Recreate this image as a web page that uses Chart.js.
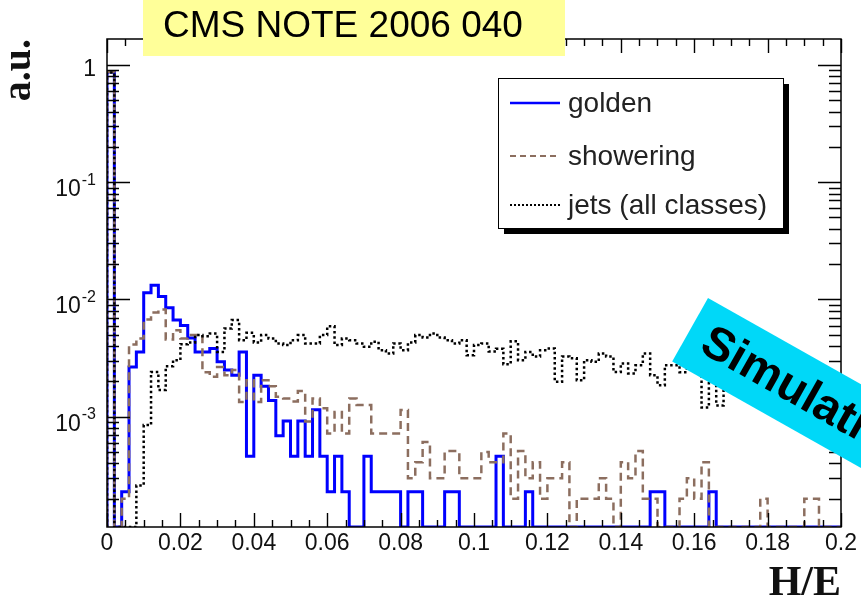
<!DOCTYPE html>
<html>
<head>
<meta charset="utf-8">
<script src="https://cdn.jsdelivr.net/npm/chart.js@4/dist/chart.umd.min.js"></script>
<style>
  html, body { margin: 0; padding: 0; background: #ffffff; }
  #wrap { position: relative; width: 861px; height: 605px; }
</style>
</head>
<body>
<div id="wrap"><canvas id="chart" width="861" height="605"></canvas></div>
<script>
// H/E histograms, 100 bins of width 0.002 from 0 to 0.2 (normalised, a.u.)
const binWidth = 0.002;

const golden = [
  0.87, 0, 2.3e-4, 2.66e-3, 3.57e-3, 1.14e-2, 1.32e-2, 1.06e-2, 8.5e-3, 6.7e-3,
  6.0e-3, 4.7e-3, 3.57e-3, 3.57e-3, 3.82e-3, 2.94e-3, 2.5e-3, 2.26e-3, 3.57e-3, 4.6e-4,
  2.26e-3, 1.82e-3, 1.38e-3, 6.9e-4, 9.2e-4, 4.6e-4, 9.2e-4, 4.6e-4, 1.15e-3, 4.6e-4,
  2.3e-4, 4.6e-4, 2.3e-4, 0, 0, 4.6e-4, 2.3e-4, 2.3e-4, 2.3e-4, 2.3e-4,
  0, 2.3e-4, 2.3e-4, 0, 0, 0, 2.3e-4, 2.3e-4, 0, 0,
  0, 0, 0, 4.6e-4, 0, 0, 0, 2.3e-4, 0, 0,
  0, 0, 0, 0, 0, 0, 0, 0, 0, 0,
  0, 0, 0, 0, 2.3e-4, 2.3e-4, 0, 0, 0, 0,
  0, 0, 2.3e-4, 0, 0, 0, 0, 0, 0, 0,
  0, 0, 0, 0, 0, 0, 0, 0, 0, 0
];

const showering = [
  0.87, 0, 2.0e-4, 4.13e-3, 4.65e-3, 6.75e-3, 7.74e-3, 8.2e-3, 4.56e-3, 5.47e-3,
  4.65e-3, 4.97e-3, 4.97e-3, 2.4e-3, 2.19e-3, 2.66e-3, 2.26e-3, 2.5e-3, 1.34e-3, 2.05e-3,
  1.34e-3, 2.05e-3, 1.82e-3, 1.48e-3, 1.43e-3, 1.35e-3, 1.66e-3, 9.1e-4, 1.43e-3, 1.18e-3,
  7.2e-4, 1.1e-3, 7.2e-4, 1.43e-3, 1.26e-3, 1.26e-3, 7.2e-4, 7.2e-4, 7.2e-4, 7.2e-4,
  1.14e-3, 3.0e-4, 4.1e-4, 6.1e-4, 3.0e-4, 3.0e-4, 5.1e-4, 5.1e-4, 3.0e-4, 3.0e-4,
  3.0e-4, 5.0e-4, 4.1e-4, 4.1e-4, 7.2e-4, 2.0e-4, 5.1e-4, 3.0e-4, 4.1e-4, 2.0e-4,
  3.0e-4, 3.0e-4, 4.1e-4, 0, 2.0e-4, 2.0e-4, 2.0e-4, 3.0e-4, 2.0e-4, 0,
  4.1e-4, 3.0e-4, 5.1e-4, 2.0e-4, 2.0e-4, 0, 0, 0, 2.0e-4, 3.0e-4,
  2.0e-4, 4.1e-4, 0, 0, 0, 0, 0, 0, 0, 2.0e-4,
  0, 0, 0, 0, 0, 2.0e-4, 2.0e-4, 0, 0, 0
];

const jets = [
  0.86, 0, 0, 0, 2.6e-4, 8.5e-4, 2.41e-3, 1.69e-3, 2.7e-3, 3.04e-3,
  4.16e-3, 4.3e-3, 4.97e-3, 4.86e-3, 5.13e-3, 3.57e-3, 5.66e-3, 6.67e-3, 4.5e-3, 5.2e-3,
  4.3e-3, 4.97e-3, 4.65e-3, 4.22e-3, 4.09e-3, 4.5e-3, 4.97e-3, 4.22e-3, 4.22e-3, 4.97e-3,
  5.9e-3, 4.09e-3, 4.65e-3, 4.5e-3, 4.22e-3, 3.95e-3, 4.36e-3, 3.7e-3, 3.46e-3, 4.22e-3,
  3.7e-3, 4.3e-3, 4.97e-3, 4.73e-3, 5.13e-3, 4.73e-3, 4.5e-3, 4.22e-3, 4.5e-3, 3.35e-3,
  4.09e-3, 4.22e-3, 3.6e-3, 3.8e-3, 2.8e-3, 4.4e-3, 3.04e-3, 3.57e-3, 3.26e-3, 3.7e-3,
  3.82e-3, 1.99e-3, 3.26e-3, 3.16e-3, 2.05e-3, 3.04e-3, 2.94e-3, 3.46e-3, 3.26e-3, 2.41e-3,
  2.85e-3, 2.34e-3, 2.75e-3, 3.46e-3, 2.26e-3, 1.86e-3, 2.75e-3, 2.75e-3, 2.4e-3, 2.6e-3,
  2.8e-3, 1.2e-3, 2.5e-3, 1.25e-3, 2.5e-3, 2.6e-3, 2.4e-3, 2.8e-3, 2.5e-3, 2.6e-3,
  2.4e-3, 2.5e-3, 2.3e-3, 2.2e-3, 2.3e-3, 2.1e-3, 2.2e-3, 2.0e-3, 2.1e-3, 2.0e-3
];

const seriesLabels = ['golden', 'showering', 'jets (all classes)'];

const xTickValues = [0, 0.02, 0.04, 0.06, 0.08, 0.1, 0.12, 0.14, 0.16, 0.18, 0.2];
const xTickLabels = ['0', '0.02', '0.04', '0.06', '0.08', '0.1', '0.12', '0.14', '0.16', '0.18', '0.2'];
const xMinorStep = 0.005;

const yMin = 1.15e-4;
const yMax = 1.66;
const yTickValues = [1, 0.1, 0.01, 0.001];
const yTickBase = ['1', '10', '10', '10'];
const yTickExp = ['', '-1', '-2', '-3'];

const xTitle = 'H/E';
const yTitle = 'a.u.';
const noteText = 'CMS NOTE 2006 040';
const stampText = 'Simulation';

// turn bin contents into step-histogram vertices (left edge of each bin);
// empty bins sit on the lower edge of the log axis
function histPoints(values) {
  const floor = (v) => (v > yMin ? v : yMin);
  const pts = [{ x: 0, y: yMin }];
  values.forEach((v, i) => pts.push({ x: i * binWidth, y: floor(v) }));
  pts.push({ x: values.length * binWidth, y: floor(values[values.length - 1]) });
  return pts;
}

// frame with inward tick marks on all four sides
const frameTicks = {
  id: 'frameTicks',
  afterDatasetsDraw(chart) {
    const { ctx, chartArea: a, scales: { x, y } } = chart;
    ctx.save();
    ctx.strokeStyle = '#000';
    ctx.lineWidth = 1.4;
    ctx.beginPath();
    const nx = Math.round((x.max - x.min) / xMinorStep);
    for (let k = 0; k <= nx; k++) {
      const px = Math.round(x.getPixelForValue(x.min + k * xMinorStep)) + 0.5;
      const len = (k % 4 === 0) ? 14 : 7;
      ctx.moveTo(px, a.bottom); ctx.lineTo(px, a.bottom - len);
      ctx.moveTo(px, a.top); ctx.lineTo(px, a.top + len);
    }
    for (let e = -5; e <= 1; e++) {
      for (let m = 1; m <= 9; m++) {
        const v = m * Math.pow(10, e);
        if (v < y.min || v > y.max) continue;
        const py = Math.round(y.getPixelForValue(v)) + 0.5;
        const len = (m === 1) ? 23 : 12;
        ctx.moveTo(a.left, py); ctx.lineTo(a.left + len, py);
        ctx.moveTo(a.right, py); ctx.lineTo(a.right - len, py);
      }
    }
    ctx.stroke();
    ctx.lineWidth = 1.5;
    ctx.strokeRect(a.left, a.top, a.right - a.left, a.bottom - a.top);
    ctx.restore();
  }
};

// y tick labels written as 10 with a raised exponent
const yLabels = {
  id: 'yLabels',
  afterDraw(chart) {
    const { ctx, chartArea: a, scales: { y } } = chart;
    ctx.save();
    ctx.fillStyle = '#111';
    ctx.textAlign = 'right';
    ctx.textBaseline = 'alphabetic';
    const right = a.left - 11;
    yTickValues.forEach((v, i) => {
      const py = y.getPixelForValue(v);
      if (yTickExp[i]) {
        ctx.font = '16px "Liberation Sans"';
        const ew = ctx.measureText(yTickExp[i]).width;
        ctx.fillText(yTickExp[i], right, py + 2.5);
        ctx.font = '23px "Liberation Sans"';
        ctx.fillText(yTickBase[i], right - ew - 1, py + 14);
      } else {
        ctx.font = '23px "Liberation Sans"';
        ctx.fillText(yTickBase[i], right, py + 11);
      }
    });
    ctx.restore();
  }
};

// boxed legend with a drop shadow
const legendBox = {
  id: 'legendBox',
  afterDraw(chart) {
    const ctx = chart.ctx;
    const bx = 498, by = 78, bw = 285, bh = 150;
    ctx.save();
    ctx.fillStyle = '#000';
    ctx.fillRect(bx + 6, by + 6, bw, bh);
    ctx.fillStyle = '#fff';
    ctx.fillRect(bx, by, bw, bh);
    ctx.strokeStyle = '#000';
    ctx.lineWidth = 1;
    ctx.strokeRect(bx + 0.5, by + 0.5, bw, bh);
    const rows = [103, 156, 205];
    const sample = [
      { w: 2.5, dash: [] },
      { w: 2, dash: [6, 4] },
      { w: 2, dash: [2, 2] }
    ];
    chart.data.datasets.forEach((ds, i) => {
      ctx.strokeStyle = ds.borderColor;
      ctx.lineWidth = sample[i].w;
      ctx.setLineDash(sample[i].dash);
      ctx.beginPath();
      ctx.moveTo(510, rows[i]);
      ctx.lineTo(560, rows[i]);
      ctx.stroke();
      ctx.setLineDash([]);
      ctx.fillStyle = '#222';
      ctx.font = '28px "Liberation Sans"';
      ctx.textAlign = 'left';
      ctx.textBaseline = 'middle';
      ctx.fillText(ds.label, 568, rows[i] + 1);
    });
    ctx.restore();
  }
};

// note banner at the top and the tilted "Simulation" stamp
const stamps = {
  id: 'stamps',
  afterDraw(chart) {
    const ctx = chart.ctx;
    ctx.save();
    ctx.fillStyle = '#ffff99';
    ctx.fillRect(143, 0, 422, 56);
    ctx.fillStyle = '#000';
    ctx.font = '37px "Liberation Sans"';
    ctx.textAlign = 'left';
    ctx.textBaseline = 'middle';
    ctx.fillText(noteText, 163, 27);
    ctx.restore();

    ctx.save();
    ctx.translate(708, 298);
    ctx.rotate(29.4 * Math.PI / 180);
    ctx.fillStyle = '#00d8f8';
    ctx.fillRect(0, 0, 400, 73);
    ctx.fillStyle = '#000';
    ctx.font = 'bold 47px "Liberation Sans"';
    ctx.textAlign = 'left';
    ctx.textBaseline = 'middle';
    ctx.fillText(stampText, 17, 38);
    ctx.restore();
  }
};

Chart.defaults.font.family = '"Liberation Sans", Arial, sans-serif';

new Chart(document.getElementById('chart'), {
  type: 'line',
  data: {
    datasets: [
      {
        label: seriesLabels[0],
        data: histPoints(golden),
        borderColor: '#0000ff',
        borderWidth: 3,
        stepped: 'before',
        pointRadius: 0,
        fill: false,
        order: 3
      },
      {
        label: seriesLabels[1],
        data: histPoints(showering),
        borderColor: '#8c6e5f',
        borderWidth: 2.5,
        borderDash: [8, 5],
        stepped: 'before',
        pointRadius: 0,
        fill: false,
        order: 2
      },
      {
        label: seriesLabels[2],
        data: histPoints(jets),
        borderColor: '#000000',
        borderWidth: 2.5,
        borderDash: [2.5, 2.7],
        stepped: 'before',
        pointRadius: 0,
        fill: false,
        order: 1
      }
    ]
  },
  options: {
    responsive: false,
    animation: false,
    devicePixelRatio: 1,
    layout: { padding: { top: 39, right: 20, left: 0, bottom: 0 } },
    plugins: {
      legend: { display: false },
      tooltip: { enabled: false }
    },
    scales: {
      x: {
        type: 'linear',
        min: 0,
        max: 0.2,
        grid: { display: false, drawTicks: false },
        border: { display: false },
        afterBuildTicks: (s) => { s.ticks = xTickValues.map(v => ({ value: v })); },
        afterFit: (s) => { s.height = 78; },
        ticks: {
          autoSkip: false,
          maxRotation: 0,
          padding: 3,
          color: '#111',
          font: { size: 23 },
          callback: (v, i) => xTickLabels[i]
        },
        title: {
          display: true,
          text: xTitle,
          align: 'end',
          color: '#111',
          font: { family: '"Liberation Serif", "Times New Roman", serif', size: 42, weight: 'bold', lineHeight: 1 },
          padding: { top: 0, bottom: 0 }
        }
      },
      y: {
        type: 'logarithmic',
        min: yMin,
        max: yMax,
        grid: { display: false, drawTicks: false },
        border: { display: false },
        afterBuildTicks: (s) => { s.ticks = yTickValues.map(v => ({ value: v })); },
        afterFit: (s) => { s.width = 107; },
        ticks: { display: false },
        title: {
          display: true,
          text: yTitle,
          align: 'end',
          color: '#111',
          font: { family: '"Liberation Serif", "Times New Roman", serif', size: 40, weight: 'bold', lineHeight: 1 },
          padding: { top: 0, bottom: 0 }
        }
      }
    }
  },
  plugins: [frameTicks, yLabels, legendBox, stamps]
});
</script>
</body>
</html>
